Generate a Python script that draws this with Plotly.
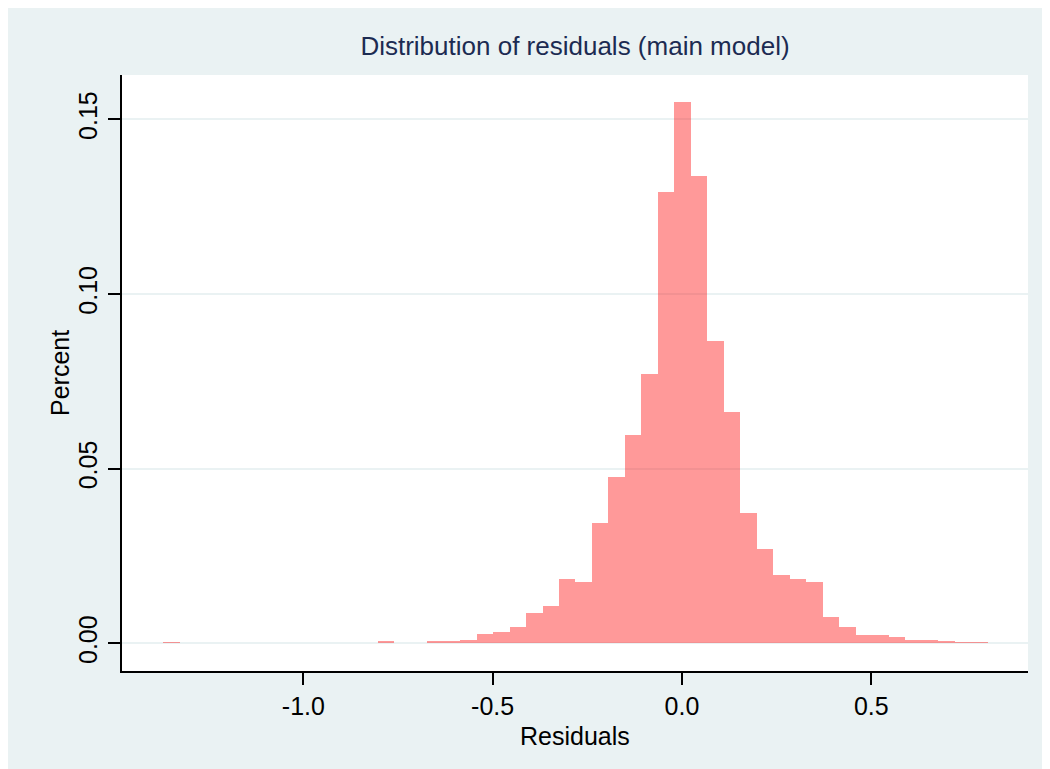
import plotly.graph_objects as go

# ---- data ----
bin_start = -1.370
bin_width = 0.04355
percent = [
    0.0003, 0, 0, 0, 0, 0, 0, 0, 0, 0.0002,
    0, 0, 0.0002, 0.0006, 0.0002, 0.0002, 0.0008, 0.0008, 0.0011, 0.0026,
    0.0034, 0.0046, 0.0087, 0.0107, 0.0184, 0.0177, 0.0345, 0.0475, 0.0597, 0.0770,
    0.1291, 0.1549, 0.1337, 0.0867, 0.0662, 0.0374, 0.0270, 0.0195, 0.0185, 0.0177,
    0.0075, 0.0047, 0.0025, 0.0025, 0.0019, 0.0011, 0.0009, 0.0007, 0.0003, 0.0003,
]
x_tick_vals = [-1.0, -0.5, 0.0, 0.5]
x_tick_text = ["-1.0", "-0.5", "0.0", "0.5"]
y_tick_vals = [0.00, 0.05, 0.10, 0.15]
y_tick_text = ["0.00", "0.05", "0.10", "0.15"]

title_text = "Distribution of residuals (main model)"
x_title = "Residuals"
y_title = "Percent"

centers = [bin_start + bin_width * (i + 0.5) for i in range(len(percent))]

BG = "#eaf2f3"
FONT = "Liberation Sans, Arial, sans-serif"

fig = go.Figure()
fig.add_trace(go.Bar(
    x=centers, y=percent, width=bin_width,
    marker=dict(color="rgba(255,0,0,0.4)", line=dict(width=0)),
    hoverinfo="x+y",
))

W, H = 1050, 769
OFF = 8  # page body margin
ml, mr, mt, mb = 122 - OFF, 30, 75 - OFF, H - (671 - OFF)
pw, ph = W - ml - mr, H - mt - mb

def px_to_paper_x(px):
    return (px - OFF - ml) / pw

def px_to_paper_y(py):
    return (H - mb - (py - OFF)) / ph

fig.update_layout(
    width=W, height=H,
    margin=dict(l=ml, r=mr, t=mt, b=mb),
    paper_bgcolor=BG,
    plot_bgcolor="white",
    bargap=0,
    showlegend=False,
    font=dict(family=FONT, size=25, color="black"),
    title=dict(
        text=title_text, x=0.5, xref="paper", xanchor="center",
        y=1 - (46 - OFF) / H, yref="container", yanchor="middle",
        font=dict(family=FONT, size=26, color="#1c2b52"),
    ),
    xaxis=dict(
        range=[-1.479, 0.914],
        tickvals=x_tick_vals, ticktext=x_tick_text,
        ticks="outside", ticklen=12, tickwidth=2, tickcolor="black",
        showline=True, linecolor="black", linewidth=2,
        showgrid=False, zeroline=False,
        tickfont=dict(family=FONT, size=25, color="black"),
        ticklabelstandoff=0,
    ),
    yaxis=dict(
        range=[-0.0079, 0.1627],
        tickvals=y_tick_vals, ticktext=y_tick_text,
        tickangle=-90,
        ticks="outside", ticklen=12, tickwidth=2, tickcolor="black",
        showline=True, linecolor="black", linewidth=2,
        showgrid=True, gridcolor=BG, gridwidth=2,
        zeroline=False,
        tickfont=dict(family=FONT, size=25, color="black"),
        ticklabelstandoff=1,
    ),
    annotations=[
        dict(text=x_title, xref="paper", yref="paper",
             x=0.5, y=px_to_paper_y(736), xanchor="center", yanchor="middle",
             showarrow=False, font=dict(family=FONT, size=25, color="black")),
        dict(text=y_title, xref="paper", yref="paper", textangle=-90,
             x=px_to_paper_x(60), y=0.5, xanchor="center", yanchor="middle",
             showarrow=False, font=dict(family=FONT, size=25, color="black")),
    ],
)

fig.write_html("out.html")
